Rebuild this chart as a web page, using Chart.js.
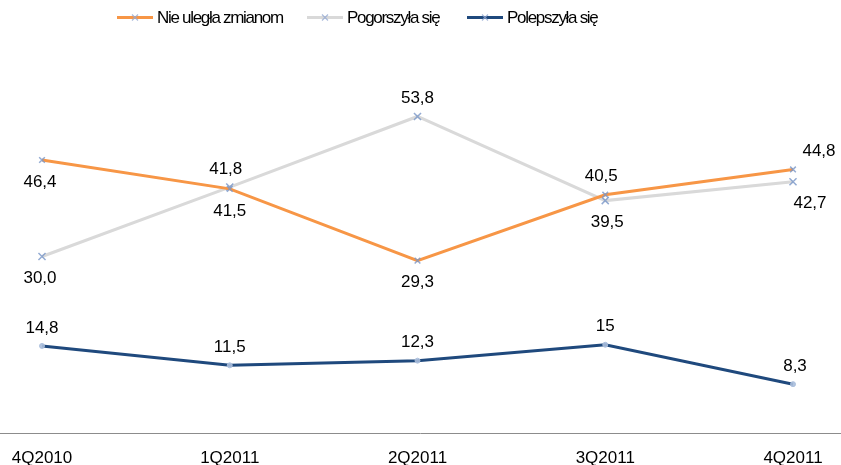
<!DOCTYPE html>
<html>
<head>
<meta charset="utf-8">
<script src="https://cdn.jsdelivr.net/npm/chart.js@4/dist/chart.umd.min.js"></script>
<style>
  html, body { margin: 0; padding: 0; background: #fff; }
  #wrap { width: 841px; height: 465px; position: relative; }
</style>
</head>
<body>
<div id="wrap"><canvas id="c" width="841" height="465"></canvas></div>
<script>
const categories = ['4Q2010', '1Q2011', '2Q2011', '3Q2011', '4Q2011'];
const seriesNames = ['Nie uległa zmianom', 'Pogorszyła się', 'Polepszyła się'];
const nieUleglaZmianom = [46.4, 41.5, 29.3, 40.5, 44.8];
const pogorszylaSie = [30.0, 41.8, 53.8, 39.5, 42.7];
const polepszylaSie = [14.8, 11.5, 12.3, 15, 8.3];

const FONT = "'Liberation Sans', Arial, sans-serif";

function fmtFixed(v) { return v.toFixed(1).replace('.', ','); }
function fmtGeneral(v) { return String(v).replace('.', ','); }

const labelPlugin = {
  id: 'pointLabels',
  afterDatasetsDraw(chart) {
    const ctx = chart.ctx;
    ctx.save();
    ctx.font = '17px ' + FONT;
    ctx.fillStyle = '#000';
    ctx.textAlign = 'center';
    ctx.textBaseline = 'middle';
    chart.data.datasets.forEach((ds, di) => {
      const meta = chart.getDatasetMeta(di);
      meta.data.forEach((pt, i) => {
        const pos = ds.labelPos[i];
        const dy = pos[0] === 'a' ? -18 : 22;
        const dx = pos[1] || 0;
        ctx.fillText(ds.fmt(ds.data[i]), pt.x + dx, pt.y + dy);
      });
    });
    ctx.restore();
  }
};

const axisLinePlugin = {
  id: 'axisLine',
  beforeDatasetsDraw(chart) {
    const ctx = chart.ctx;
    const y = Math.round(chart.scales.y.getPixelForValue(0)) + 0.5;
    ctx.save();
    ctx.strokeStyle = '#8c8c8c';
    ctx.lineWidth = 1;
    ctx.beginPath();
    ctx.moveTo(0, y);
    ctx.lineTo(chart.width, y);
    ctx.stroke();
    ctx.restore();
  }
};

const legendX = [117, 307, 467];
const customLegend = {
  id: 'customLegend',
  afterDraw(chart) {
    const ctx = chart.ctx;
    ctx.save();
    const y = 17.5;
    chart.data.datasets.forEach((ds, i) => {
      const x = legendX[i];
      ctx.strokeStyle = ds.borderColor;
      ctx.lineWidth = 3;
      ctx.beginPath();
      ctx.moveTo(x, y);
      ctx.lineTo(x + 36, y);
      ctx.stroke();
      ctx.strokeStyle = 'rgba(150,170,210,0.8)';
      ctx.lineWidth = 1.2;
      ctx.beginPath();
      ctx.moveTo(x + 15, y - 3); ctx.lineTo(x + 21, y + 3);
      ctx.moveTo(x + 21, y - 3); ctx.lineTo(x + 15, y + 3);
      ctx.stroke();
      ctx.fillStyle = '#000';
      ctx.font = '17px ' + FONT;
      try { ctx.letterSpacing = '-1.3px'; } catch (e) {}
      ctx.textAlign = 'left';
      ctx.textBaseline = 'middle';
      ctx.fillText(ds.label, x + 40, y + 1);
    });
    ctx.restore();
  }
};

const markerColor = 'rgba(120,150,200,0.8)';

new Chart(document.getElementById('c'), {
  type: 'line',
  data: {
    labels: categories,
    datasets: [
      {
        label: seriesNames[0], data: nieUleglaZmianom,
        borderColor: '#F79646', backgroundColor: '#F79646', borderWidth: 3,
        pointStyle: 'crossRot', pointRadius: 4, pointBorderColor: markerColor, pointBorderWidth: 1.5,
        fmt: fmtFixed,
        labelPos: [['b', -2], ['b', 0], ['b', 0], ['a', -4], ['a', 26]]
      },
      {
        label: seriesNames[1], data: pogorszylaSie,
        borderColor: '#D9D9D9', backgroundColor: '#D9D9D9', borderWidth: 3,
        pointStyle: 'crossRot', pointRadius: 5, pointBorderColor: markerColor, pointBorderWidth: 1.5,
        fmt: fmtFixed,
        labelPos: [['b', -2], ['a', -4], ['a', 0], ['b', 2], ['b', 17]]
      },
      {
        label: seriesNames[2], data: polepszylaSie,
        borderColor: '#1F497D', backgroundColor: '#1F497D', borderWidth: 3,
        pointStyle: 'circle', pointRadius: 2.5, pointBorderColor: 'rgba(170,190,220,0.9)', pointBackgroundColor: 'rgba(170,190,220,0.9)', pointBorderWidth: 1,
        fmt: fmtGeneral,
        labelPos: [['a', 0], ['a', 0], ['a', 0], ['a', 0], ['a', 2]]
      }
    ]
  },
  options: {
    responsive: false,
    animation: false,
    layout: { padding: { left: 42, right: 48, top: 80, bottom: 0 } },
    plugins: {
      legend: { display: false },
      tooltip: { enabled: false }
    },
    scales: {
      x: {
        offset: false,
        grid: { display: false },
        border: { display: false },
        ticks: { font: { size: 17, family: FONT }, color: '#000', padding: 7, maxRotation: 0 },
        afterFit(s) { s.height = 32; }
      },
      y: {
        display: false,
        min: 0,
        max: 60
      }
    }
  },
  plugins: [labelPlugin, axisLinePlugin, customLegend]
});
</script>
</body>
</html>
